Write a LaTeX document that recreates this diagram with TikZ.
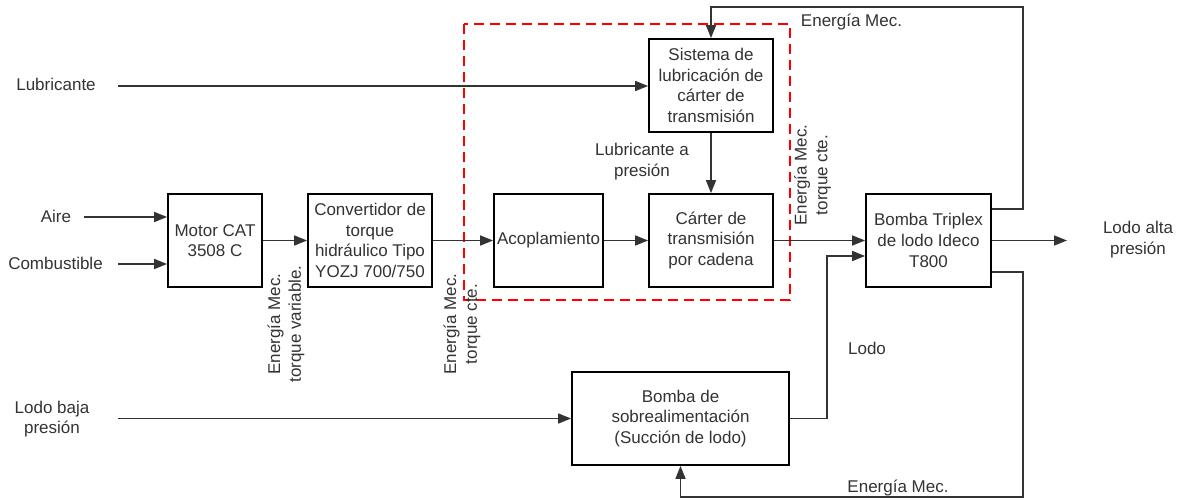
\documentclass[tikz,border=0pt]{standalone}
\usepackage{fontspec}
\setmainfont{Liberation Sans}
\usetikzlibrary{arrows.meta}
\definecolor{txt}{HTML}{333333}
\definecolor{ln}{HTML}{333333}
\newcommand\fs{\fontsize{17}{20.7}\selectfont}
\begin{document}
\begin{tikzpicture}[x=1pt,y=-1pt,
  box/.style={draw=black,line width=1.8pt,minimum width=#1,minimum height=93pt,inner sep=0pt,align=center,text=txt,font=\fs},
  lbl/.style={align=center,text=txt,font=\fs,inner sep=0pt},
  arr/.style={draw=ln,line width=1.6pt,-{Triangle[length=13pt,width=10pt]}}
]
\useasboundingbox (0,0) rectangle (1180,500);
\fill[white] (0,0) rectangle (1180,500);

% red dashed region
\draw[red,line width=2pt,dash pattern=on 10pt off 6pt] (464,24) rectangle (790,300);

% boxes
\node[box=94pt]  (motor)   at (215,240.5)   {Motor CAT\\3508 C};
\node[box=124pt] (conv)    at (370,240.5)   {Convertidor de\\torque\\hidráulico Tipo\\YOZJ 700/750};
\node[box=109pt] (acop)    at (548.5,240.5) {Acoplamiento};
\node[box=124pt] (carter)  at (711,240.5)   {Cárter de\\transmisión\\por cadena};
\node[box=124pt] (sistema) at (711,85.5)    {Sistema de\\lubricación de\\cárter de\\transmisión};
\node[box=125pt] (bomba)   at (928.5,240.5) {Bomba Triplex\\de lodo Ideco\\T800};
\node[box=217pt] (sobre)   at (680.5,418.5) {Bomba de\\sobrealimentación\\(Succión de lodo)};

% coordinates
\coordinate (aire0) at (84,217);
\coordinate (comb0) at (118,264);
\coordinate (lub0)  at (118,86);
\coordinate (lb0)   at (118,418.5);
\coordinate (out)   at (1067,240.5);
\coordinate (t1)    at (1023,209);
\coordinate (tr)    at (1023,7);
\coordinate (b1)    at (1023,272);
\coordinate (br)    at (1023,497);
\coordinate (lm)    at (827,256);

% connectors
\draw[arr] (aire0) -- (motor.west |- aire0);
\draw[arr] (comb0) -- (motor.west |- comb0);
\draw[arr] (lub0) -- (sistema.west |- lub0);
\draw[arr] (motor) -- (conv);
\draw[arr] (conv) -- (acop);
\draw[arr] (acop) -- (carter);
\draw[arr] (carter) -- (bomba);
\draw[arr] (bomba) -- (out);
\draw[arr] (sistema) -- (carter);
\draw[arr] (bomba.east |- t1) -| (tr) -| (sistema.north);
\draw[arr] (bomba.east |- b1) -| (br) -| (sobre.south);
\draw[arr] (sobre.east) -| (lm) -- (bomba.west |- lm);
\draw[arr] (lb0) -- (sobre.west |- lb0);

% labels
\node[lbl] at (56,216) {Aire};
\node[lbl] at (55.5,263) {Combustible};
\node[lbl] at (56,84) {Lubricante};
\node[lbl] at (52,419) {Lodo baja\\presión};
\node[lbl] at (1138,239.5) {Lodo alta\\presión};
\node[lbl] at (642,161.5) {Lubricante a\\presión};
\node[lbl] at (851.5,22.5) {Energía Mec.};
\node[lbl] at (898,488) {Energía Mec.};
\node[lbl] at (867,348) {Lodo};
\node[lbl,rotate=90] at (286,324) {Energía Mec.\\torque variable.};
\node[lbl,rotate=90] at (462,324) {Energía Mec.\\torque cte.};
\node[lbl,rotate=90] at (812.5,175) {Energía Mec.\\torque cte.};
\end{tikzpicture}
\end{document}
